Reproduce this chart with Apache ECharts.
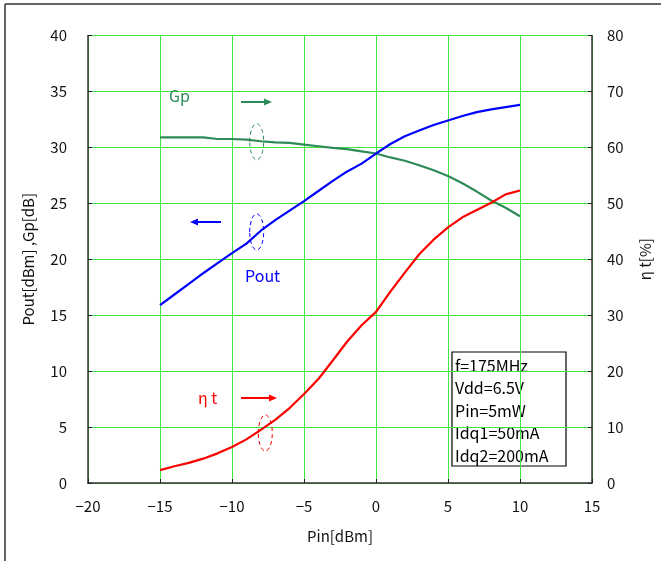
<!DOCTYPE html>
<html>
<head>
<meta charset="utf-8">
<title>Pout, Gp, ηt vs Pin</title>
<script src="https://cdn.jsdelivr.net/npm/echarts@6/dist/echarts.min.js"></script>
<style>
  html, body { margin: 0; padding: 0; background: #fff; }
  #chart { width: 661px; height: 561px; }
</style>
</head>
<body>
<div id="chart"></div>
<script>
// Input power sweep [dBm]
var pinValues = [-15, -14, -13, -12, -11, -10, -9, -8, -7, -6, -5, -4, -3, -2, -1, 0, 1, 2, 3, 4, 5, 6, 7, 8, 9, 10];
// Output power [dBm] (left axis)
var poutValues = [15.9, 16.85, 17.8, 18.75, 19.65, 20.55, 21.4, 22.55, 23.5, 24.35, 25.2, 26.1, 27.0, 27.85, 28.55, 29.45, 30.3, 31.0, 31.5, 32.0, 32.4, 32.8, 33.15, 33.4, 33.6, 33.8];
// Power gain [dB] (left axis)
var gpValues = [30.9, 30.9, 30.9, 30.9, 30.75, 30.75, 30.7, 30.55, 30.45, 30.4, 30.25, 30.1, 29.95, 29.85, 29.65, 29.45, 29.1, 28.8, 28.4, 27.95, 27.45, 26.8, 26.05, 25.25, 24.6, 23.85];
// Total efficiency [%] (right axis)
var etaValues = [2.3, 3.0, 3.6, 4.35, 5.3, 6.45, 7.8, 9.5, 11.3, 13.4, 15.9, 18.6, 21.9, 25.3, 28.2, 30.6, 34.2, 37.6, 40.9, 43.5, 45.7, 47.5, 48.8, 50.1, 51.6, 52.3];

// Axis ranges / ticks
var xTicks = { min: -20, max: 15, interval: 5 };
var leftTicks = { min: 0, max: 40, interval: 5 };
var rightTicks = { min: 0, max: 80, interval: 10 };

// Measurement conditions
var conditionLines = ['f=175MHz', 'Vdd=6.5V', 'Pin=5mW', 'Idq1=50mA', 'Idq2=200mA'];

function pairs(xs, ys) {
  return xs.map(function (x, i) { return [x, ys[i]]; });
}

var FONT = '"Noto Sans CJK JP", "Noto Sans", sans-serif';
var GRID_GREEN = '#3fe83f';
var GP_GREEN = '#2e8b57';

var chart = echarts.init(document.getElementById('chart'), null, { renderer: 'canvas' });

var grid = { left: 88, right: 69, top: 35.5, bottom: 78 };

function dashedEllipse(cx, cy, color) {
  return {
    type: 'ellipse',
    shape: { cx: cx, cy: cy, rx: 7, ry: 18 },
    style: { fill: null, stroke: color, lineWidth: 1, lineDash: [4, 3] },
    z: 10
  };
}

function arrow(x1, x2, y, color) {
  var dir = x2 > x1 ? 1 : -1;
  return {
    type: 'group',
    z: 10,
    children: [
      { type: 'line', shape: { x1: x1, y1: y, x2: x2 - dir * 6, y2: y }, style: { stroke: color, lineWidth: 2 } },
      { type: 'polygon', shape: { points: [[x2, y], [x2 - dir * 8, y - 3.5], [x2 - dir * 8, y + 3.5]] }, style: { fill: color } }
    ]
  };
}

function label(text, x, y, color) {
  return {
    type: 'text', x: x, y: y, z: 10,
    style: { text: text, fill: color, font: '16px ' + FONT, textVerticalAlign: 'middle' }
  };
}

var boxChildren = [
  { type: 'rect', shape: { x: 0, y: 0, width: 114, height: 114 }, style: { fill: '#fff', stroke: '#000', lineWidth: 1.2 } }
];
conditionLines.forEach(function (t, i) {
  boxChildren.push({
    type: 'text', x: 3, y: 14 + i * 22.4,
    style: { text: t, fill: '#000', font: '16px ' + FONT, textVerticalAlign: 'middle' }
  });
});

var axisLineStyle = { color: '#333', width: 1.5 };
var tickStyle = { show: true, inside: true, length: 4, lineStyle: { color: '#222' } };

var option = {
  animation: false,
  backgroundColor: '#fff',
  grid: grid,
  xAxis: {
    type: 'value',
    min: xTicks.min, max: xTicks.max, interval: xTicks.interval,
    name: 'Pin[dBm]',
    nameLocation: 'middle',
    nameGap: 46,
    nameTextStyle: { color: '#111', fontSize: 15, fontFamily: FONT },
    axisLine: { show: true, onZero: false, lineStyle: axisLineStyle },
    axisTick: tickStyle,
    axisLabel: {
      color: '#111', fontSize: 15, fontFamily: FONT, margin: 16,
      formatter: function (v) { return String(v).replace('-', '\u2212'); }
    },
    splitLine: { show: true, lineStyle: { color: GRID_GREEN, width: 1 } }
  },
  yAxis: [
    {
      type: 'value', position: 'left',
      min: leftTicks.min, max: leftTicks.max, interval: leftTicks.interval,
      name: 'Pout[dBm] ,Gp[dB]',
      nameLocation: 'middle',
      nameRotate: 90,
      nameGap: 52,
      nameTextStyle: { color: '#111', fontSize: 15, fontFamily: FONT },
      axisLine: { show: true, onZero: false, lineStyle: axisLineStyle },
      axisTick: tickStyle,
      axisLabel: { color: '#111', fontSize: 15, fontFamily: FONT, margin: 21 },
      splitLine: { show: true, lineStyle: { color: GRID_GREEN, width: 1 } }
    },
    {
      type: 'value', position: 'right',
      min: rightTicks.min, max: rightTicks.max, interval: rightTicks.interval,
      name: '\u03b7 t[%]',
      nameLocation: 'middle',
      nameRotate: 90,
      nameGap: 46,
      nameTextStyle: { color: '#111', fontSize: 15, fontFamily: FONT },
      axisLine: { show: true, onZero: false, lineStyle: axisLineStyle },
      axisTick: tickStyle,
      axisLabel: { color: '#111', fontSize: 15, fontFamily: FONT, margin: 15 },
      splitLine: { show: false }
    }
  ],
  series: [
    {
      name: 'Gp', type: 'line', yAxisIndex: 0,
      data: pairs(pinValues, gpValues),
      showSymbol: false, smooth: false,
      lineStyle: { color: GP_GREEN, width: 2.2 }, z: 3
    },
    {
      name: 'Pout', type: 'line', yAxisIndex: 0,
      data: pairs(pinValues, poutValues),
      showSymbol: false, smooth: false,
      lineStyle: { color: '#0000ff', width: 2.2 }, z: 4
    },
    {
      name: 'ηt', type: 'line', yAxisIndex: 1,
      data: pairs(pinValues, etaValues),
      showSymbol: false, smooth: false,
      lineStyle: { color: '#ff0000', width: 2.2 }, z: 5
    }
  ],
  graphic: [
    // outer frame (left and top edges)
    { type: 'line', shape: { x1: 5, y1: 4, x2: 661, y2: 4 }, style: { stroke: '#333', lineWidth: 1.5 } },
    { type: 'line', shape: { x1: 5, y1: 4, x2: 5, y2: 561 }, style: { stroke: '#333', lineWidth: 1.5 } },

    // Gp annotation
    label('Gp', 169, 96, GP_GREEN),
    arrow(241, 272, 102, GP_GREEN),
    dashedEllipse(256.7, 141.7, GP_GREEN),

    // Pout annotation
    arrow(221, 190, 222, '#0000ff'),
    dashedEllipse(256.7, 232, '#0000ff'),
    label('Pout', 245, 276, '#0000ff'),

    // ηt annotation
    label('\u03b7 t', 198, 398, '#ff0000'),
    arrow(241, 277, 398, '#ff0000'),
    dashedEllipse(265.3, 433, '#ff0000'),

    // Conditions box
    { type: 'group', x: 452, y: 352, z: 20, children: boxChildren }
  ]
};

chart.setOption(option);
</script>
</body>
</html>
